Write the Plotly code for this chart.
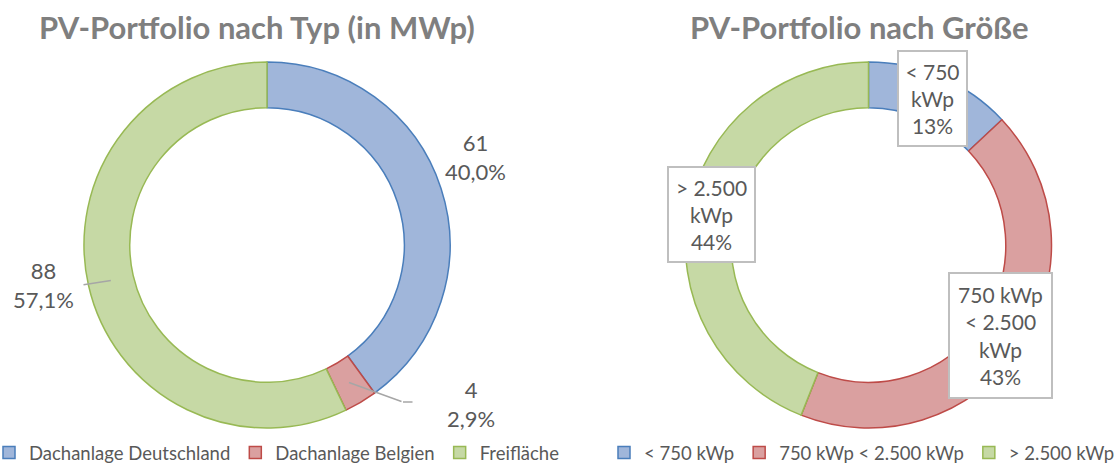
import math
import plotly.graph_objects as go

W, H = 1116, 466
MB = 36  # bottom margin: the legends sit below the plot area

# ---- data ----
type_labels = ["Dachanlage Deutschland", "Dachanlage Belgien", "Freifläche"]
type_mwp = [61, 4, 88]
type_share = [40.0, 2.9, 57.1]

size_labels = ["< 750 kWp", "750 kWp < 2.500 kWp", "> 2.500 kWp"]
size_box_text = ["< 750<br>kWp", "750 kWp<br>< 2.500<br>kWp", "> 2.500<br>kWp"]
size_share = [13, 43, 44]

fills = ["#a0b6da", "#daa0a0", "#c6d9a5"]
lines = ["#4a7ebb", "#be4b48", "#98b954"]

FONT = "Lato"
TXT = "#595959"
LEADER = "#a6a6a6"

def px(x):
    return x / W

def py(y):
    return (H - MB - y) / (H - MB)

# pie geometry (pixels)
R = 183
CY = 245
CX_L, CX_R = 267, 868.5
HOLE = 0.75
RMID = R * (1 + HOLE) / 2

def dom(cx):
    return dict(x=[px(cx - R), px(cx + R)], y=[py(CY + R), py(CY - R)])

def mid_angles(vals):
    tot = sum(vals)
    acc = 0
    out = []
    for v in vals:
        out.append((acc + v / 2) / tot * 2 * math.pi)
        acc += v
    return out

def ring_point(cx, ang, r):
    return cx + r * math.sin(ang), CY - r * math.cos(ang)

fig = go.Figure()
fig.add_trace(go.Pie(
    labels=type_labels, values=type_share, hole=HOLE, sort=False,
    direction="clockwise", rotation=0, textinfo="none", hoverinfo="label+value",
    marker=dict(colors=fills, line=dict(color=lines, width=1.5)),
    domain=dom(CX_L), legend="legend", showlegend=True,
))
fig.add_trace(go.Pie(
    labels=size_labels, values=size_share, hole=HOLE, sort=False,
    direction="clockwise", rotation=0, textinfo="none", hoverinfo="label+value",
    marker=dict(colors=fills, line=dict(color=lines, width=1.5)),
    domain=dom(CX_R), legend="legend2", showlegend=True,
))

ann = []
# titles
for t, cx in [("PV-Portfolio nach Typ (in MWp)", 257), ("PV-Portfolio nach Größe", 860)]:
    ann.append(dict(text=f"<b>{t}</b>", x=px(cx), y=py(27), xref="paper", yref="paper",
                    xanchor="center", yanchor="middle", showarrow=False,
                    font=dict(family=FONT, size=31, color="#7f7f7f")))

LBL = 21

def segment(x0, y0, x1, y1):
    # leader-line segment drawn as an annotation arrow without head
    return dict(text="", x=px(x1), y=py(y1), xref="paper", yref="paper",
                ax=x0 - x1, ay=y0 - y1, showarrow=True, arrowhead=0,
                arrowwidth=1.5, arrowcolor=LEADER, standoff=0, startstandoff=0)

# left pie labels
ang_l = mid_angles(type_share)
txt_l = [f"{m}<br>{str(s).replace('.', ',')}%" for m, s in zip(type_mwp, type_share)]
label_pos = [(475, 157), (471, 404), (43, 285)]
# leader routes: list of intermediate points from the label side to the ring
leader_route = [None, [(414, 402), (403, 402)], [(82, 285)]]
for i, (tx, ty) in enumerate(label_pos):
    ann.append(dict(text=txt_l[i], x=px(tx), y=py(ty), xref="paper", yref="paper",
                    xanchor="center", yanchor="middle",
                    showarrow=False, font=dict(family=FONT, size=LBL + 1, color=TXT)))
    if leader_route[i]:
        pts = leader_route[i] + [ring_point(CX_L, ang_l[i], RMID)]
        for (xa, ya), (xb, yb) in zip(pts[:-1], pts[1:]):
            ann.append(segment(xa, ya, xb, yb))

# right pie boxed labels, centred on the ring at the slice mid-angle
ang_r = mid_angles(size_share)
box_wh = [(63, 89), (97, 119), (81, 89)]
for i in range(3):
    bx, by = ring_point(CX_R, ang_r[i], RMID)
    ann.append(dict(text=f"{size_box_text[i]}<br>{size_share[i]}%", x=px(bx), y=py(by),
                    xref="paper", yref="paper", showarrow=False,
                    xanchor="center", yanchor="middle",
                    width=box_wh[i][0], height=box_wh[i][1],
                    bgcolor="white", bordercolor="#bfbfbf", borderwidth=2, borderpad=2,
                    font=dict(family=FONT, size=LBL, color=TXT)))

legend_common = dict(orientation="h", xanchor="left", yanchor="middle", y=py(453),
                     font=dict(family=FONT, size=18.5, color=TXT), itemwidth=30,
                     bgcolor="rgba(0,0,0,0)", traceorder="normal")
fig.update_layout(
    width=W, height=H,
    margin=dict(l=0, r=0, t=0, b=MB, autoexpand=False),
    paper_bgcolor="white", plot_bgcolor="white",
    annotations=ann,
    legend=dict(x=px(-11), **legend_common),
    legend2=dict(x=px(604), **legend_common),
    font=dict(family=FONT, color=TXT),
)

fig.write_html("out.html", config={"displayModeBar": False},
               post_script="document.body.style.margin='0px';")
